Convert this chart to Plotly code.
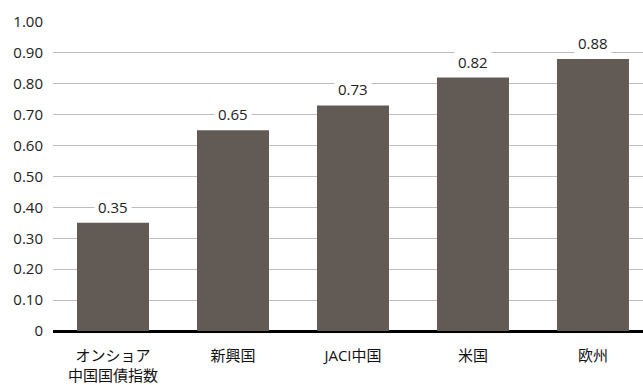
import plotly.graph_objects as go

categories = ["オンショア<br>中国国債指数", "新興国", "JACI中国", "米国", "欧州"]
values = [0.35, 0.65, 0.73, 0.82, 0.88]
value_labels = ["0.35", "0.65", "0.73", "0.82", "0.88"]
tick_vals = [0, 0.1, 0.2, 0.3, 0.4, 0.5, 0.6, 0.7, 0.8, 0.9, 1.0]
tick_text = ["0", "0.10", "0.20", "0.30", "0.40", "0.50", "0.60", "0.70", "0.80", "0.90", "1.00"]

FONT = "Open Sans, Noto Sans CJK JP, sans-serif"

fig = go.Figure()
fig.add_trace(go.Bar(
    x=list(range(len(categories))), y=values,
    marker=dict(color="#625a54", line=dict(width=0)),
    width=0.6,
))

for i, (v, t) in enumerate(zip(values, value_labels)):
    fig.add_annotation(
        x=i, y=v, text=t, showarrow=False, yanchor="middle", yshift=16,
        bgcolor="white", font=dict(family=FONT, size=15, color="#222"),
        borderpad=3,
    )

fig.update_layout(
    width=643, height=385,
    margin=dict(l=53, r=0, t=22, b=54),
    plot_bgcolor="white", paper_bgcolor="white",
    showlegend=False,
    font=dict(family=FONT, size=15, color="#222"),
)
fig.update_xaxes(
    range=[-0.5, 4.417],
    tickvals=list(range(len(categories))), ticktext=categories,
    showgrid=False, showline=False, zeroline=False,
    ticks="", ticklabelstandoff=14,
    tickfont=dict(family=FONT, size=15, color="#111"),
)
fig.update_yaxes(
    range=[0, 1.0], tickvals=tick_vals, ticktext=tick_text,
    showgrid=True, gridcolor="#bdbdbd", gridwidth=1,
    zeroline=True, zerolinecolor="#000", zerolinewidth=2.5,
    showline=False, ticks="", ticklabelstandoff=9,
    tickfont=dict(family=FONT, size=15, color="#222"),
)

fig.write_html("out.html")
